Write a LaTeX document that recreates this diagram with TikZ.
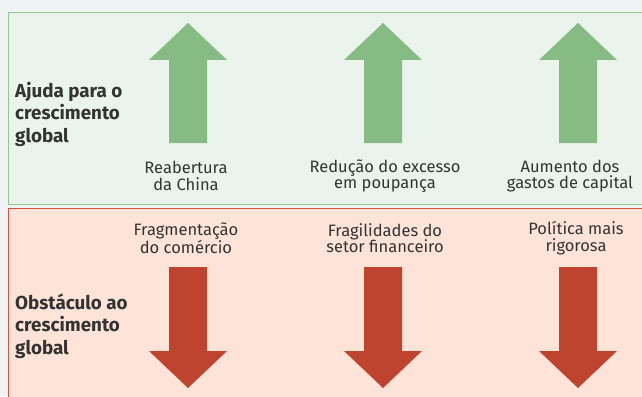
\documentclass[tikz,border=0pt]{standalone}
\usepackage{fontspec}
\setmainfont{Fira Sans}
\usepackage{xcolor}
\usetikzlibrary{positioning}

\definecolor{pagebg}{HTML}{F0F2F4}
\definecolor{helpfill}{HTML}{EAF4EC}
\definecolor{helpline}{HTML}{8CCB8C}
\definecolor{helparrow}{HTML}{86BC84}
\definecolor{hinderfill}{HTML}{FDE3D8}
\definecolor{hinderline}{HTML}{D9513F}
\definecolor{hinderarrow}{HTML}{BE442F}
\definecolor{textgray}{HTML}{333333}

\tikzset{
  box/.style = {draw, line width=1pt},
  factor/.style = {font=\fontsize{16.5}{16.5}\selectfont, text=textgray, align=center, inner sep=0pt},
  heading/.style = {font=\fontsize{18.8}{22.5}\selectfont\bfseries, text=textgray, align=left, anchor=west, inner sep=0pt},
  uparrow/.style = {fill=helparrow},
  downarrow/.style = {fill=hinderarrow}
}

\begin{document}
\begin{tikzpicture}[x=1pt, y=-1pt]
  \useasboundingbox (0,0) rectangle (642,396);
  \clip (0,0) rectangle (642,396);
  \fill[pagebg] (0,0) rectangle (642,396);

  % the two bands
  \draw[box, draw=helpline, fill=helpfill] (8.5,12.5) rectangle (660,204);
  \draw[box, draw=hinderline, fill=hinderfill] (8.5,208) rectangle (660,410);

  \node[heading] (help) at (15,114) {Ajuda para o\\crescimento\\global};
  \node[heading] (hinder) at (15,326) {Obstáculo ao\\crescimento\\global};

  % arrows
  \foreach \x in {188,383,578} {
    \fill[uparrow] (\x,23) -- (\x+39,60) -- (\x+19,60) -- (\x+19,143)
      -- (\x-19,143) -- (\x-19,60) -- (\x-39,60) -- cycle;
    \fill[downarrow] (\x,388) -- (\x+39,351) -- (\x+19,351) -- (\x+19,267)
      -- (\x-19,267) -- (\x-19,351) -- (\x-39,351) -- cycle;
  }

  % labels
  \node[factor] (china) at (186,176) {Reabertura\\da China};
  \node[factor] (savings) at (385,176) {Redução do excesso\\em poupança};
  \node[factor] (capex) at (570,176) {Aumento dos\\gastos de capital};
  \node[factor] (trade) at (186,238) {Fragmentação\\do comércio};
  \node[factor] (finance) at (385,238) {Fragilidades do\\setor financeiro};
  \node[factor] (policy) at (576,238) {Política mais\\rigorosa};
\end{tikzpicture}
\end{document}
